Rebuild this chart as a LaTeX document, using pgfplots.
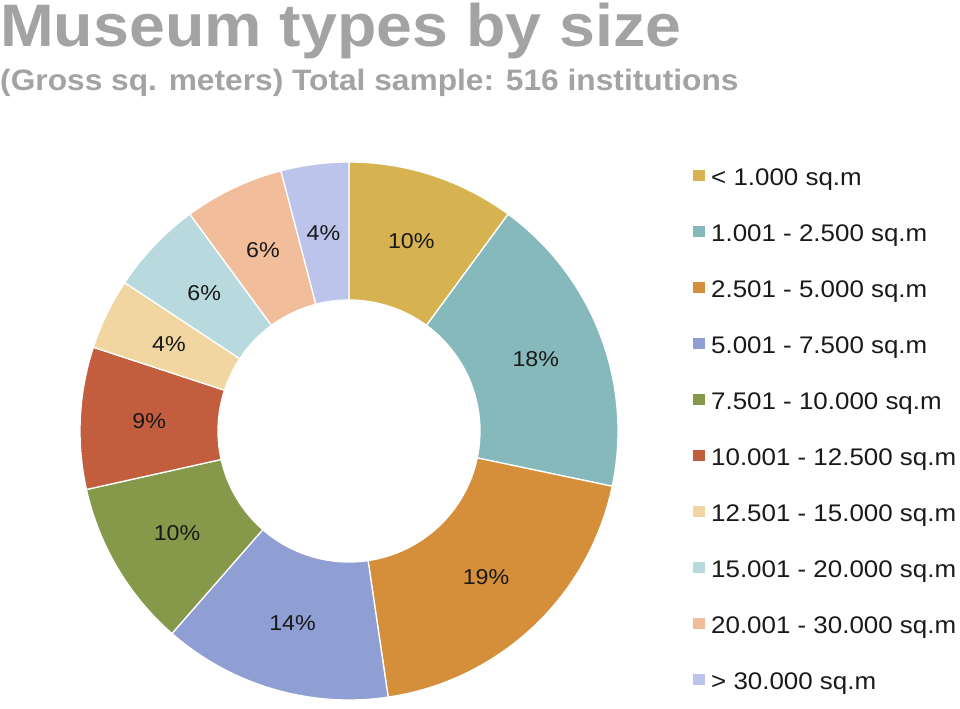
\documentclass[border=0pt]{standalone}
\usepackage{pgfplots}
\pgfplotsset{compat=1.18}
\usepackage{pgfplotstable}
\usepackage{graphicx}
\usepackage{fontspec}
\setmainfont{Liberation Sans}

\definecolor{c1}{RGB}{214,179,80}
\definecolor{c2}{RGB}{133,185,188}
\definecolor{c3}{RGB}{213,143,59}
\definecolor{c4}{RGB}{143,159,211}
\definecolor{c5}{RGB}{134,152,73}
\definecolor{c6}{RGB}{194,94,61}
\definecolor{c7}{RGB}{242,214,161}
\definecolor{c8}{RGB}{184,218,223}
\definecolor{c9}{RGB}{241,189,154}
\definecolor{c10}{RGB}{189,196,236}
\definecolor{titlegray}{RGB}{163,163,163}

% counts out of 516 institutions
\pgfplotstableread[col sep=comma]{
label,count,color
{< 1.000 sq.m},52,c1
{1.001 - 2.500 sq.m},94,c2
{2.501 - 5.000 sq.m},100,c3
{5.001 - 7.500 sq.m},71,c4
{7.501 - 10.000 sq.m},52,c5
{10.001 - 12.500 sq.m},44,c6
{12.501 - 15.000 sq.m},22,c7
{15.001 - 20.000 sq.m},29,c8
{20.001 - 30.000 sq.m},31,c9
{> 30.000 sq.m},21,c10
}\slices

\newcommand\pctfont{\fontsize{21.5bp}{24bp}\selectfont}
\newcommand\legfont{\fontsize{24bp}{28bp}\selectfont}

\begin{document}
\begin{tikzpicture}
\useasboundingbox (0,0) rectangle (960bp,709bp);
\begin{axis}[
  at={(0,0)}, anchor=south west,
  width=960bp, height=709bp, scale only axis,
  xmin=0, xmax=960, ymin=0, ymax=709, y dir=reverse,
  hide axis, clip=false,
]
\pgfplotstablegetrowsof{\slices}
\pgfmathtruncatemacro{\N}{\pgfplotsretval-1}
\def\cum{0}
\pgfplotsforeachungrouped \i in {0,...,\N}{%
  \pgfplotstablegetelem{\i}{count}\of{\slices}\let\v\pgfplotsretval
  \pgfplotstablegetelem{\i}{color}\of{\slices}\let\col\pgfplotsretval
  \pgfplotstablegetelem{\i}{label}\of{\slices}\let\lab\pgfplotsretval
  \pgfmathsetmacro{\a}{90-\cum/516*360}
  \pgfmathsetmacro{\b}{90-(\cum+\v)/516*360}
  \pgfmathsetmacro{\m}{(\a+\b)/2}
  \pgfmathsetmacro{\xa}{349+269*cos(\a)}
  \pgfmathsetmacro{\ya}{431-269*sin(\a)}
  \pgfmathsetmacro{\xb}{349+131*cos(\b)}
  \pgfmathsetmacro{\yb}{431-131*sin(\b)}
  \pgfmathsetmacro{\xm}{349+200*cos(\m)}
  \pgfmathsetmacro{\ym}{431-200*sin(\m)}
  \pgfmathtruncatemacro{\p}{round(\v/516*100)}
  \pgfmathsetmacro{\ly}{176+56*\i}
  \pgfmathsetmacro{\lya}{\ly-6}
  \pgfmathsetmacro{\lyb}{\ly+5}
  \pgfmathsetmacro{\lbase}{\ly+9}
  \edef\temp{%
    \noexpand\fill[\col, draw=white, line width=1.3bp]
      (axis cs:\xa,\ya) arc[start angle=\a, end angle=\b, radius=269bp]
      -- (axis cs:\xb,\yb) arc[start angle=\b, end angle=\a, radius=131bp] -- cycle;
    \noexpand\node[inner sep=0pt, text=black!90] at (axis cs:\xm,\ym)
      {\noexpand\pctfont\noexpand\scalebox{1.08}[1]{\p\noexpand\%}};
    \noexpand\fill[\col] (axis cs:693,\lya) rectangle (axis cs:705,\lyb);
    \noexpand\node[inner sep=0pt, anchor=base west, text=black!90] at (axis cs:711,\lbase)
      {\noexpand\legfont\noexpand\scalebox{1.08}[1]{\unexpanded\expandafter{\lab}}};
  }%
  \temp
  \pgfmathsetmacro{\cum}{\cum+\v}%
}
\node[inner sep=0pt, anchor=base west, text=titlegray] at (axis cs:0,47)
  {\fontsize{60bp}{66bp}\selectfont\bfseries\scalebox{1.075}[1]{Museum types by size}};
\node[inner sep=0pt, anchor=base west, text=titlegray] at (axis cs:0,91)
  {\fontsize{29.5bp}{34bp}\selectfont\bfseries\scalebox{1.075}[1]{(Gross sq. meters) Total sample: 516 institutions}};
\end{axis}
\end{tikzpicture}
\end{document}
